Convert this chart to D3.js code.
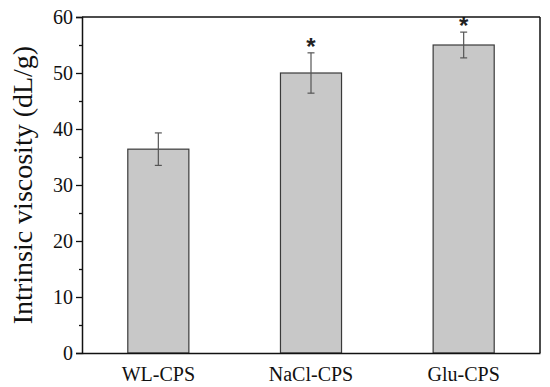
<!DOCTYPE html>
<html>
<head>
<meta charset="utf-8">
<script src="https://cdn.jsdelivr.net/npm/d3@7"></script>
<style>
  body { margin: 0; background: #fff; }
  svg { display: block; }
</style>
</head>
<body>
<div id="chart"></div>
<script>
// data
var categories = ["WL-CPS", "NaCl-CPS", "Glu-CPS"];
var values = [36.4, 50.0, 55.0];
var errors = [2.9, 3.6, 2.3];
var marks = ["", "*", "*"];
var yTicks = [0, 10, 20, 30, 40, 50, 60];

var W = 550, H = 387;
var margin = { top: 17, right: 10, bottom: 34, left: 82 },
  width = W - margin.left - margin.right,
  height = H - margin.top - margin.bottom;

var svg = d3.select("#chart")
  .append("svg")
  .attr("width", W)
  .attr("height", H)
  .append("g")
  .attr("transform", "translate(" + margin.left + "," + margin.top + ")");

var x = d3.scaleBand()
  .domain(categories)
  .range([0, width])
  .paddingInner(0.6)
  .paddingOuter(0.3);

var y = d3.scaleLinear()
  .domain([0, 60])
  .range([height, 0]);

var data = categories.map(function(c, i) {
  return { name: c, value: values[i], err: errors[i], mark: marks[i] };
});

// bars
svg.selectAll(".bar")
  .data(data)
  .enter().append("rect")
  .attr("class", "bar")
  .attr("x", function(d) { return x(d.name); })
  .attr("y", function(d) { return y(d.value); })
  .attr("width", x.bandwidth())
  .attr("height", function(d) { return height - y(d.value); })
  .attr("fill", "#c8c8c8")
  .attr("stroke", "#3a3a3a")
  .attr("stroke-width", 1.2);

// error bars
var cap = 3.5;
var eb = svg.selectAll(".err")
  .data(data)
  .enter().append("g")
  .attr("class", "err")
  .attr("stroke", "#555")
  .attr("stroke-width", 1.2);
eb.append("line")
  .attr("x1", function(d) { return x(d.name) + x.bandwidth() / 2; })
  .attr("x2", function(d) { return x(d.name) + x.bandwidth() / 2; })
  .attr("y1", function(d) { return y(d.value + d.err); })
  .attr("y2", function(d) { return y(d.value - d.err); });
eb.append("line")
  .attr("x1", function(d) { return x(d.name) + x.bandwidth() / 2 - cap; })
  .attr("x2", function(d) { return x(d.name) + x.bandwidth() / 2 + cap; })
  .attr("y1", function(d) { return y(d.value + d.err); })
  .attr("y2", function(d) { return y(d.value + d.err); });
eb.append("line")
  .attr("x1", function(d) { return x(d.name) + x.bandwidth() / 2 - cap; })
  .attr("x2", function(d) { return x(d.name) + x.bandwidth() / 2 + cap; })
  .attr("y1", function(d) { return y(d.value - d.err); })
  .attr("y2", function(d) { return y(d.value - d.err); });

// significance asterisks
svg.selectAll(".sig")
  .data(data.filter(function(d) { return d.mark; }))
  .enter().append("text")
  .attr("class", "sig")
  .attr("x", function(d) { return x(d.name) + x.bandwidth() / 2; })
  .attr("y", function(d) { return y(d.value + d.err) + 2; })
  .attr("text-anchor", "middle")
  .style("font-family", "'Liberation Sans', Arial, sans-serif")
  .style("font-weight", "bold")
  .style("font-size", "24px")
  .style("fill", "#222")
  .text(function(d) { return d.mark; });

// frame (top and right)
svg.append("line")
  .attr("x1", 0).attr("x2", width)
  .attr("y1", 0).attr("y2", 0)
  .attr("stroke", "#111").attr("stroke-width", 1.5);
svg.append("line")
  .attr("x1", width).attr("x2", width)
  .attr("y1", 0).attr("y2", height)
  .attr("stroke", "#111").attr("stroke-width", 1.5);

// y axis with minor ticks
var yAxis = svg.append("g")
  .call(d3.axisLeft(y).tickValues(yTicks).tickSize(6).tickPadding(3));
svg.append("g")
  .call(d3.axisLeft(y).tickValues(d3.range(5, 60, 10)).tickSize(3).tickFormat(""))
  .select(".domain").remove();

// x axis (no ticks)
var xAxis = svg.append("g")
  .attr("transform", "translate(0," + height + ")")
  .call(d3.axisBottom(x).tickSize(0).tickPadding(10));

svg.selectAll(".domain").attr("stroke", "#111").attr("stroke-width", 1.5);
svg.selectAll(".tick line").attr("stroke", "#111").attr("stroke-width", 1.3);
svg.selectAll(".tick text")
  .style("font-family", "'Liberation Serif', 'Times New Roman', serif")
  .style("font-size", "20px")
  .style("fill", "#111");
xAxis.selectAll(".tick text").attr("dy", "0.9em");

// y axis title
svg.append("text")
  .attr("transform", "rotate(-90)")
  .attr("x", -height / 2)
  .attr("y", 32 - margin.left)
  .attr("text-anchor", "middle")
  .style("font-family", "'Liberation Serif', 'Times New Roman', serif")
  .style("font-size", "28px")
  .style("fill", "#111")
  .text("Intrinsic viscosity (dL/g)");
</script>
</body>
</html>
